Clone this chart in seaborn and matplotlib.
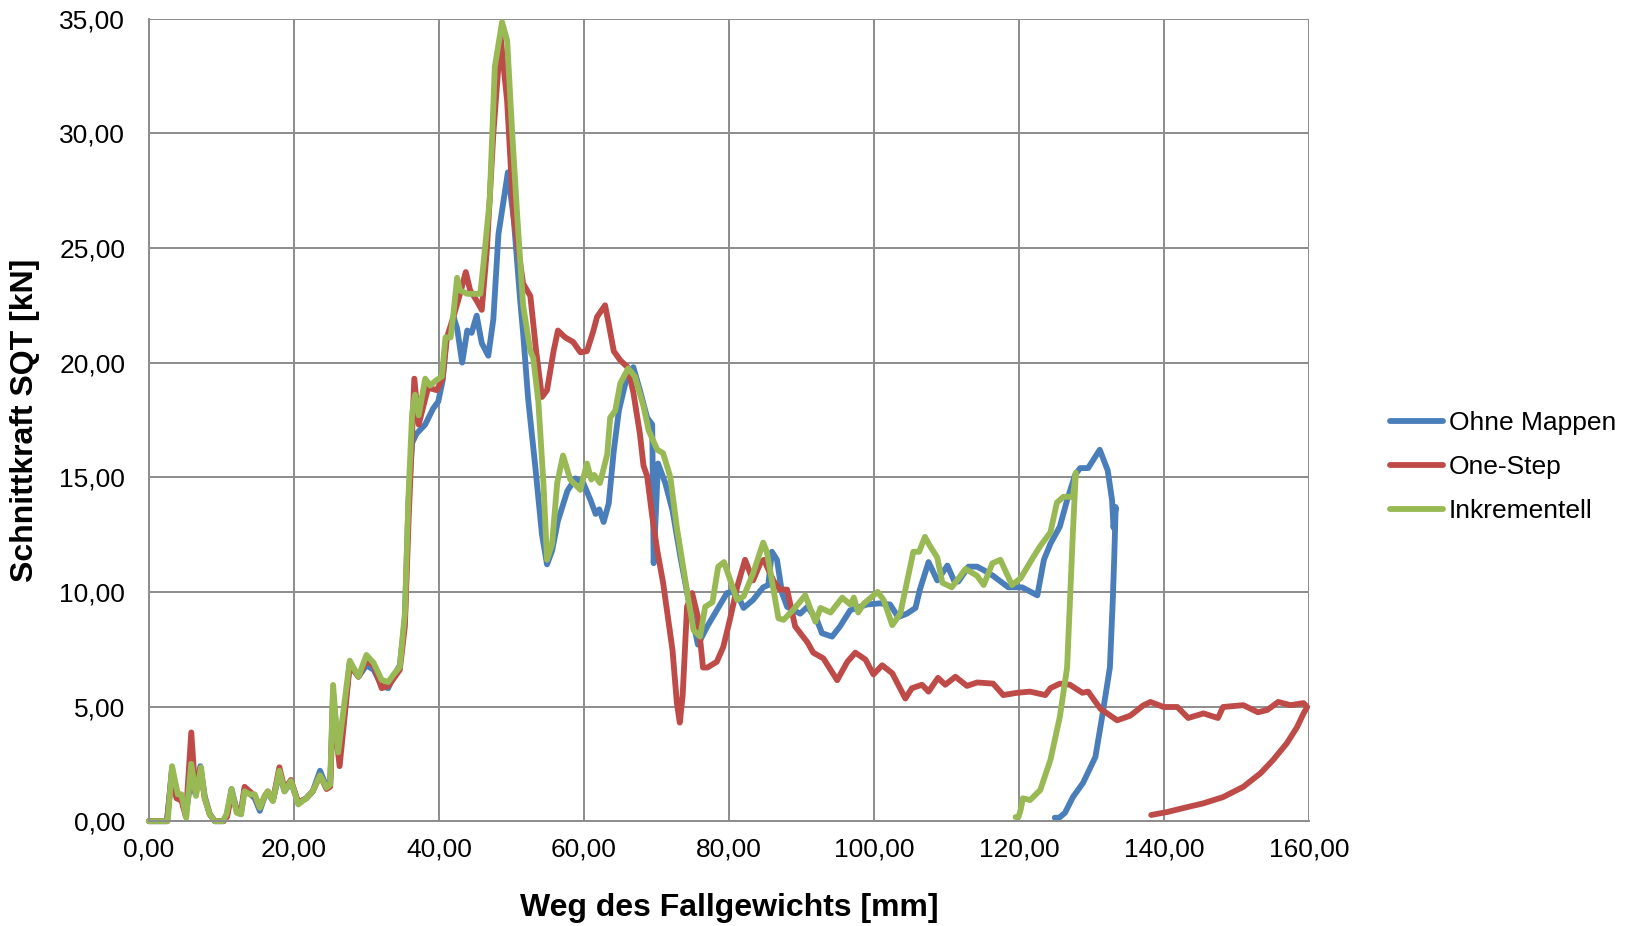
import numpy as np
import pandas as pd
import matplotlib
matplotlib.use("Agg")
import matplotlib.pyplot as plt
import seaborn as sns
from matplotlib.ticker import FuncFormatter, MultipleLocator

# --- data ---
ohne_x = [0, 2.5, 3.2, 3.8, 4.5, 5.1, 5.8, 6.4, 7.1, 7.7, 8.4, 9.1, 10.3, 10.8, 11.4, 12.1, 12.7,
          13.2, 13.9, 14.6, 15.3, 16.0, 16.4, 17.1, 18.0, 18.7, 19.6, 20.6, 21.7, 22.6, 23.6, 24.5,
          25.0, 25.4, 26.0, 26.5, 27.7, 28.9, 30.0, 31.0, 32.1, 33.0, 33.7, 34.6, 35.3, 35.8, 36.3,
          36.9, 38.1, 39.2, 39.9, 40.5, 41.0, 41.6, 42.0, 42.5, 43.2, 43.9, 44.5, 45.2, 45.9, 46.8,
          47.5, 48.2, 49.5, 50.3, 51.2, 51.6, 52.3, 53.3, 54.2, 54.9, 55.6, 56.4, 57.7, 58.8, 59.9,
          60.9, 61.6, 62.1, 62.7, 63.4, 64.1, 64.8, 66.0, 66.8, 67.7, 68.7, 69.4, 69.6, 70.2, 71.2,
          72.2, 73.3, 74.4, 75.7, 77.0, 78.3, 79.7, 80.5, 81.5, 82.0, 83.3, 84.7, 85.4, 85.9, 86.6,
          87.3, 88.0, 89.8, 90.8, 92.1, 92.8, 94.2, 95.3, 96.7, 99.0, 100.8, 102.2, 103.3, 104.5,
          105.7, 106.3, 107.5, 108.7, 110.1, 111.0, 111.6, 113.0, 114.2, 115.1, 116.4, 118.5, 120.4,
          122.5, 123.4, 124.3, 125.6, 126.6, 127.7, 128.4, 129.5, 131.1, 132.2, 132.8, 133.0, 133.3,
          133.1, 132.9, 132.5, 131.4, 130.5, 128.8, 127.4, 126.3, 125.5, 124.9]
ohne_y = [0, 0, 2.3, 1.1, 1.0, 0.3, 1.8, 1.2, 2.4, 1.1, 0.3, 0, 0, 0.3, 1.4, 0.5, 0.3,
          1.4, 1.2, 1.0, 0.45, 1.1, 1.2, 0.9, 2.1, 1.3, 1.7, 0.8, 1.0, 1.3, 2.2, 1.5,
          1.6, 5.6, 3.5, 3.3, 6.9, 6.3, 6.8, 6.6, 5.9, 5.8, 6.3, 6.8, 8.8, 14.0, 16.5,
          16.9, 17.3, 18.0, 18.3, 19.2, 21.0, 21.3, 22.0, 21.5, 20.0, 21.4, 21.3, 22.05, 20.85, 20.3,
          21.9, 25.6, 28.3, 26.3, 22.7, 21.3, 18.4, 15.4, 12.5, 11.2, 11.8, 13.1, 14.4, 14.95, 14.75,
          14.0, 13.4, 13.6, 13.05, 13.85, 16.15, 17.9, 19.5, 19.8, 18.8, 17.6, 17.3, 11.25, 15.6, 14.75,
          13.55, 11.5, 9.65, 7.7, 8.5, 9.2, 9.95, 10.0, 9.65, 9.3, 9.65, 10.2, 10.3, 11.75, 11.4,
          9.95, 9.35, 9.05, 9.35, 8.78, 8.2, 8.05, 8.5, 9.2, 9.45, 9.5, 9.45, 8.9, 9.05,
          9.3, 10.1, 11.3, 10.5, 11.15, 10.5, 10.45, 11.1, 11.1, 10.95, 10.7, 10.2, 10.2,
          9.85, 11.4, 12.1, 12.85, 14.0, 15.1, 15.4, 15.4, 16.2, 15.3, 14.0, 12.8, 13.7,
          11.5, 9.65, 6.7, 4.5, 2.8, 1.67, 1.05, 0.36, 0.15, 0.15]

onestep_x = [0, 2.5, 3.2, 3.8, 4.5, 5.1, 5.85, 6.4, 7.1, 7.7, 8.4, 9.1, 10.3, 10.8, 11.4, 12.1, 12.7,
             13.2, 13.9, 14.6, 15.3, 16.0, 16.4, 17.1, 18.0, 18.7, 19.6, 20.6, 21.7, 22.6, 23.6, 24.5,
             25.0, 25.4, 26.3, 27.7, 28.9, 30.0, 31.0, 32.1, 33.0, 33.7, 34.6, 35.3, 35.8, 36.3, 36.6,
             37.2, 38.5, 39.7, 40.5, 41.1, 42.0, 42.9, 43.7, 44.3, 45.2, 45.9, 46.6, 47.5, 48.5, 49.4,
             50.3, 51.6, 52.6, 53.4, 54.2, 54.9, 55.8, 56.4, 57.4, 58.5, 59.5, 60.4, 61.3, 61.8, 62.9,
             63.4, 64.1, 65.0, 66.0, 66.8, 67.7, 68.2, 68.7, 69.4, 70.1, 70.9, 72.2, 72.8, 73.2, 73.6,
             74.2, 74.9, 75.7, 76.4, 77.0, 78.3, 79.2, 80.1, 81.1, 82.2, 83.3, 84.3, 84.8, 86.1, 87.0,
             88.0, 89.1, 90.8, 91.6, 93.0, 94.9, 96.3, 97.4, 98.8, 99.9, 101.1, 102.5, 104.3, 105.2,
             106.6, 107.5, 108.8, 109.8, 111.2, 112.8, 114.2, 116.4, 117.8, 119.7, 121.5, 123.6, 124.3,
             125.6, 127.0, 128.7, 129.5, 131.2, 133.5, 135.3, 137.1, 138.1, 139.9, 141.8, 143.3, 145.4,
             147.4, 148.1, 150.9, 152.9, 154.2, 155.7, 157.4, 159.2, 159.7, 159.2, 158.3, 156.9, 155.0,
             153.3, 150.9, 148.1, 145.4, 142.6, 140.4, 138.2]
onestep_y = [0, 0, 2.2, 1.0, 0.9, 0.2, 3.87, 1.3, 2.3, 1.0, 0.3, 0, 0, 0.2, 1.2, 0.5, 0.4,
             1.5, 1.3, 1.1, 0.6, 1.1, 1.3, 0.9, 2.35, 1.4, 1.8, 0.8, 1.0, 1.3, 2.0, 1.4,
             1.5, 5.0, 2.4, 6.8, 6.3, 7.0, 6.8, 5.8, 5.9, 6.2, 6.6, 8.5, 13.0, 17.0, 19.3,
             17.3, 18.9, 18.8, 19.3, 21.1, 22.0, 23.0, 23.95, 23.15, 22.7, 22.3, 24.9, 30.0, 34.2, 31.4,
             26.3, 23.45, 22.9, 20.5, 18.5, 18.8, 20.5, 21.4, 21.1, 20.9, 20.45, 20.5, 21.4, 22.0, 22.5,
             21.7, 20.5, 20.1, 19.8, 18.7, 16.9, 15.5, 15.05, 13.3, 11.8, 10.4, 7.45, 5.15, 4.3, 5.5,
             9.35, 9.95, 8.9, 6.7, 6.7, 6.95, 7.6, 8.78, 10.2, 11.4, 10.5, 11.25, 11.4, 10.5, 10.1,
             10.1, 8.5, 7.8, 7.35, 7.1, 6.15, 6.95, 7.35, 7.05, 6.4, 6.8, 6.45, 5.35, 5.8,
             5.95, 5.65, 6.25, 5.95, 6.3, 5.9, 6.05, 6.0, 5.5, 5.6, 5.65, 5.5, 5.8,
             6.0, 5.95, 5.6, 5.65, 4.9, 4.4, 4.6, 5.05, 5.2, 4.98, 4.98, 4.5, 4.7,
             4.5, 4.98, 5.06, 4.75, 4.85, 5.2, 5.06, 5.15, 4.98, 4.7, 4.1, 3.4, 2.67,
             2.1, 1.5, 1.05, 0.78, 0.57, 0.4, 0.27]

inkr_x = [0, 2.6, 3.2, 4.0, 4.5, 5.15, 5.85, 6.5, 7.2, 7.7, 8.4, 9.1, 10.2, 10.7, 11.4, 12.1, 12.7,
          13.2, 13.9, 14.6, 15.3, 16.0, 16.4, 17.1, 18.0, 18.7, 19.6, 20.6, 21.7, 22.6, 23.6, 24.5,
          25.0, 25.4, 26.1, 27.7, 28.9, 30.0, 31.0, 32.1, 33.0, 33.7, 34.6, 35.3, 35.8, 36.3, 36.7,
          37.2, 38.1, 38.8, 39.5, 40.4, 40.9, 41.6, 42.0, 42.5, 42.9, 43.9, 44.8, 45.7, 46.1, 47.0,
          47.7, 48.7, 49.4, 50.1, 50.8, 51.6, 52.6, 53.0, 53.7, 54.4, 54.9, 55.6, 56.3, 57.1, 58.1,
          59.5, 60.4, 61.0, 61.4, 62.2, 63.2, 63.6, 64.3, 65.0, 66.1, 67.0, 68.2, 68.9, 70.1, 70.9,
          71.9, 72.8, 74.4, 75.1, 76.0, 76.7, 77.7, 78.5, 79.3, 81.1, 82.0, 83.3, 84.7, 85.2, 85.9,
          86.8, 87.5, 88.8, 90.5, 91.9, 92.6, 94.0, 95.6, 96.7, 97.2, 97.8, 98.6, 100.5, 101.3,
          102.5, 103.6, 104.5, 105.4, 106.2, 107.0, 107.7, 108.7, 109.4, 110.7, 112.6, 114.2, 115.1,
          116.3, 117.4, 119.0, 120.2, 121.9, 122.9, 124.3, 125.2, 126.1, 127.4, 127.8, 127.4, 127.0,
          126.6, 125.6, 124.3, 122.9, 121.5, 120.5, 120.2, 119.9, 119.5]
inkr_y = [0, 0, 2.4, 1.17, 1.17, 0.15, 2.5, 1.1, 2.35, 1.0, 0.3, 0, 0, 0.3, 1.4, 0.37, 0.3,
          1.3, 1.17, 1.17, 0.58, 1.1, 1.3, 0.88, 2.2, 1.3, 1.75, 0.73, 1.0, 1.3, 2.0, 1.46,
          1.6, 5.94, 3.0, 7.0, 6.3, 7.25, 6.9, 6.16, 6.07, 6.38, 6.73, 9.08, 14.2, 17.8, 18.6,
          17.7, 19.3, 19.0, 19.2, 19.4, 21.1, 21.1, 22.15, 23.7, 23.15, 23.0, 23.0, 23.0, 24.2, 27.1,
          32.9, 34.85, 34.05, 30.0, 26.35, 22.5, 20.5, 20.2, 18.3, 14.75, 11.4, 12.1, 14.75, 15.95, 14.9,
          14.45, 15.6, 14.9, 15.1, 14.75, 16.0, 17.6, 17.9, 19.1, 19.75, 19.4, 18.1, 17.05, 16.2, 16.05,
          15.0, 12.8, 9.65, 8.33, 8.05, 9.35, 9.55, 11.1, 11.3, 9.65, 9.8, 10.8, 12.15, 11.75, 10.5,
          8.85, 8.78, 9.2, 9.85, 8.7, 9.3, 9.1, 9.75, 9.45, 9.75, 9.1, 9.5, 10.0, 9.65,
          8.55, 9.05, 10.4, 11.75, 11.75, 12.4, 12.0, 11.5, 10.4, 10.2, 11.0, 10.7, 10.3,
          11.25, 11.4, 10.3, 10.6, 11.5, 12.0, 12.6, 13.9, 14.15, 14.15, 15.2, 12.6, 9.65,
          6.7, 4.55, 2.67, 1.36, 0.92, 1.0, 0.5, 0.18, 0.18]

series_names = ["Ohne Mappen", "One-Step", "Inkrementell"]
series_colors = ["#4A7EBB", "#BE4B48", "#98B954"]
x_ticks = list(range(0, 161, 20))
y_ticks = list(range(0, 36, 5))

sns.set_style("white")
plt.rcParams["font.family"] = ["Liberation Sans", "DejaVu Sans"]
plt.rcParams["text.color"] = "black"
plt.rcParams["axes.labelcolor"] = "black"

fig = plt.figure(figsize=(16.32, 9.26), dpi=100)
ax = fig.add_axes([0.0912, 0.1132, 0.7111, 0.8666])

grid_color = "#8C8C8C"
for xs, ys, name, col in zip([ohne_x, onestep_x, inkr_x], [ohne_y, onestep_y, inkr_y],
                             series_names, series_colors):
    sns.lineplot(x=xs, y=ys, sort=False, estimator=None, color=col, linewidth=4.2,
                 label=name, ax=ax, solid_joinstyle="round", solid_capstyle="round",
                 clip_on=False)

ax.set_xlim(0, 160)
ax.set_ylim(0, 35)
ax.set_xticks(x_ticks)
ax.set_yticks(y_ticks)
fmt = FuncFormatter(lambda v, p: f"{v:.2f}".replace(".", ","))
ax.xaxis.set_major_formatter(fmt)
ax.yaxis.set_major_formatter(fmt)
ax.grid(True, color=grid_color, linewidth=1.4)
ax.set_axisbelow(True)
for side in ["top", "right"]:
    ax.spines[side].set_visible(False)
for side in ["left", "bottom"]:
    ax.spines[side].set_color(grid_color)
    ax.spines[side].set_linewidth(1.4)
ax.tick_params(axis="both", which="major", direction="out", length=5, width=1.4,
               color=grid_color, labelsize=19, labelcolor="black")
ax.tick_params(axis="y", pad=12)
ax.tick_params(axis="x", pad=7)

ax.set_xlabel("Weg des Fallgewichts [mm]", fontsize=23, fontweight="bold", color="black")
ax.set_ylabel("Schnittkraft SQT [kN]", fontsize=23, fontweight="bold", color="black")
ax.xaxis.set_label_coords(0.5, -0.089)
ax.yaxis.set_label_coords(-0.094, 0.5)

handles, labels = ax.get_legend_handles_labels()
leg = ax.legend(handles, labels, loc="center left", bbox_to_anchor=(0.852, 0.4957),
                bbox_transform=fig.transFigure, frameon=False, fontsize=19,
                handlelength=2.0, handletextpad=0.2, labelspacing=0.75, borderpad=0,
                borderaxespad=0)
for t in leg.get_texts():
    t.set_color("black")

fig.savefig("out.png", dpi=100)
